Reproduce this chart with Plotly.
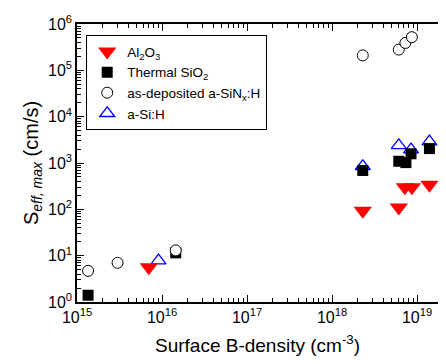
import plotly.graph_objects as go

# Data (x: surface B-density cm^-3, y: Seff,max cm/s)
al2o3_x = [7.0e15, 2.3e18, 6.1e18, 7.2e18, 8.7e18, 1.4e19]
al2o3_y = [5.6, 93, 110, 300, 300, 340]

sio2_x = [1.35e15, 1.45e16, 2.3e18, 6.1e18, 7.4e18, 8.5e18, 1.4e19]
sio2_y = [1.4, 11.5, 690, 1090, 1020, 1580, 2050]

sinx_x = [1.35e15, 3.0e15, 1.45e16, 2.3e18, 6.1e18, 7.3e18, 8.7e18]
sinx_y = [4.7, 7.0, 13, 2.1e5, 2.8e5, 3.9e5, 5.2e5]

asih_x = [9.1e15, 2.3e18, 6.1e18, 8.5e18, 1.4e19]
asih_y = [7.8, 850, 2400, 1950, 2900]

x_tickvals = [1e15, 1e16, 1e17, 1e18, 1e19]
x_ticktext = ["10<sup>15</sup>", "10<sup>16</sup>", "10<sup>17</sup>", "10<sup>18</sup>", "10<sup>19</sup>"]
y_tickvals = [1e0, 1e1, 1e2, 1e3, 1e4, 1e5, 1e6]
y_ticktext = ["10<sup>0</sup>", "10<sup>1</sup>", "10<sup>2</sup>", "10<sup>3</sup>",
              "10<sup>4</sup>", "10<sup>5</sup>", "10<sup>6</sup>"]

FONT = "Liberation Sans, Arial, sans-serif"

fig = go.Figure()
fig.add_trace(go.Scatter(
    x=asih_x, y=asih_y, mode="markers", name="a-Si:H", legendrank=4, cliponaxis=False,
    marker=dict(symbol="triangle-up-open", size=13, color="#0000ff", line=dict(width=1.3, color="#0000ff"))))
fig.add_trace(go.Scatter(
    x=al2o3_x, y=al2o3_y, mode="markers", name="Al<sub>2</sub>O<sub>3</sub>", legendrank=1, cliponaxis=False,
    marker=dict(symbol="triangle-down", size=16, color="#ff0000", line=dict(width=0))))
fig.add_trace(go.Scatter(
    x=sio2_x, y=sio2_y, mode="markers", name="Thermal SiO<sub>2</sub>", legendrank=2, cliponaxis=False,
    marker=dict(symbol="square", size=11, color="#000000", line=dict(width=0))))
fig.add_trace(go.Scatter(
    x=sinx_x, y=sinx_y, mode="markers", name="as-deposited a-SiN<sub>x</sub>:H", legendrank=3, cliponaxis=False,
    marker=dict(symbol="circle", size=11, color="#ffffff", line=dict(width=1, color="#000000"))))

# page body has an 8px margin: keep the figure inside the window without scrollbars
fig.update_layout(
    width=430, height=348,
    margin=dict(l=69, r=0, t=16, b=54),
    plot_bgcolor="white", paper_bgcolor="white",
    font=dict(family=FONT, color="#000000"),
    showlegend=True,
    legend=dict(x=0.025, y=0.96, xanchor="left", yanchor="top",
                bordercolor="#000000", borderwidth=1.2, bgcolor="white",
                font=dict(size=13.5, family=FONT), traceorder="normal",
                itemwidth=30, tracegroupgap=0),
)
fig.update_xaxes(
    type="log", range=[15, 19.247],
    tickvals=x_tickvals, ticktext=x_ticktext, tickfont=dict(size=16),
    ticks="inside", ticklen=7, tickwidth=1, tickcolor="#000",
    minor=dict(ticks="inside", ticklen=4, tickcolor="#000", dtick="D1", showgrid=False),
    showline=True, linecolor="#000", linewidth=1.5, mirror="allticks",
    showgrid=False, zeroline=False,
    title=dict(text="Surface B-density (cm<sup>-3</sup>)", font=dict(size=19), standoff=17),
)
fig.update_yaxes(
    type="log", range=[0, 6],
    tickvals=y_tickvals, ticktext=y_ticktext, tickfont=dict(size=16),
    ticks="inside", ticklen=7, tickwidth=1, tickcolor="#000",
    minor=dict(ticks="inside", ticklen=4, tickcolor="#000", dtick="D1", showgrid=False),
    showline=True, linecolor="#000", linewidth=1.5, mirror=False,
    showgrid=False, zeroline=False,
    title=dict(text="S<sub><i>eff, max</i></sub> (cm/s)", font=dict(size=20), standoff=4),
)

fig.write_html("out.html")
